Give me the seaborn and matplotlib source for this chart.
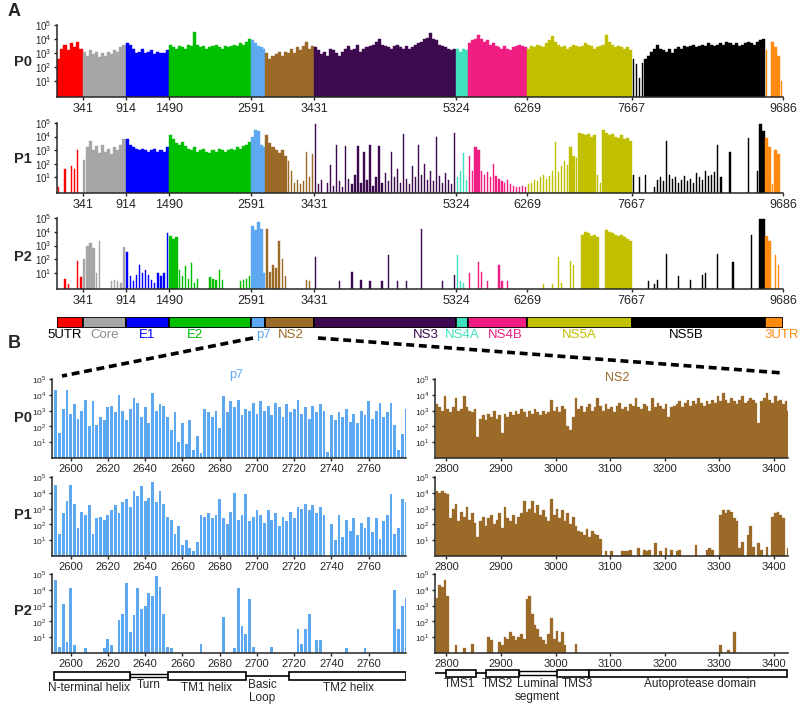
import numpy as np
import matplotlib
matplotlib.use('Agg')
import matplotlib.pyplot as plt
from matplotlib.lines import Line2D
from matplotlib.patches import Rectangle
from matplotlib.ticker import NullLocator
import seaborn as sns

sns.set_style('ticks')
plt.rcParams['font.family'] = ['Liberation Sans', 'DejaVu Sans']
plt.rcParams['mathtext.fontset'] = 'custom'
plt.rcParams['mathtext.rm'] = 'Liberation Sans'

### genome regions (HCV JFH1)
regions = ['5UTR', 'Core', 'E1', 'E2', 'p7', 'NS2', 'NS3', 'NS4A', 'NS4B', 'NS5A', 'NS5B', '3UTR']
region_start = [1, 341, 914, 1490, 2591, 2780, 3431, 5324, 5486, 6269, 7667, 9443]
region_end = [341, 914, 1490, 2591, 2780, 3431, 5324, 5486, 6269, 7667, 9443, 9686]
region_colors = ['#ff0000', '#a6a6a6', '#0000ff', '#00bf00', '#5ea8f2', '#9b6a28',
                 '#3d0a50', '#3fe0bd', '#f01e82', '#c0c000', '#000000', '#ff8a10']
genome_ticks = [341, 914, 1490, 2591, 3431, 5324, 6269, 7667, 9686]

### panel A: log10 coverage per region (coarse bins, 0 = no bar)
A_P0 = [
    [2.6, 3.3, 3.6, 3.2, 3.7, 3.4, 3.8, 3.3],
    [3.1, 2.8, 3.2, 2.9, 3.1, 2.7, 3.0, 2.8, 3.1, 2.9, 3.2, 3.1, 3.4, 3.6],
    [3.7, 3.6, 3.3, 3.0, 3.1, 3.3, 3.0, 3.1, 3.2, 2.9, 3.1, 3.0, 3.0, 3.2],
    [3.6, 3.4, 3.3, 3.5, 3.4, 3.3, 3.6, 3.5, 4.5, 3.6, 3.4, 3.5, 3.3, 3.4, 3.5, 3.6, 3.4, 3.3,
     3.5, 3.4, 3.5, 3.6, 3.5, 3.7, 3.6, 3.8, 4.0],
    [3.9, 3.7, 3.5, 3.4, 3.3],
    [3.0, 2.6, 2.8, 2.9, 3.1, 2.8, 3.1, 3.0, 3.3, 3.0, 3.4, 3.2, 3.5, 3.8, 3.3, 3.5],
    [3.4, 3.2, 2.9, 3.1, 2.8, 3.3, 3.2, 3.0, 2.8, 3.1, 3.3, 3.5, 3.2, 3.3, 3.6, 3.1, 3.3, 3.4,
     3.5, 3.6, 3.8, 4.0, 3.6, 3.5, 3.4, 3.3, 3.5, 3.6, 3.4, 3.3, 3.5, 3.3, 3.4, 3.6, 3.7, 3.8,
     4.0, 4.1, 4.4, 4.0, 3.9, 3.6, 3.5, 3.4, 3.3, 3.2, 3.3],
    [3.3, 3.1, 3.3, 3.2],
    [3.7, 3.9, 4.0, 4.3, 4.0, 3.8, 3.9, 3.6, 3.7, 3.5, 3.4, 3.3, 3.5, 3.3, 3.2, 3.4, 3.5, 3.6, 3.5, 3.4],
    [3.3, 3.5, 3.4, 3.6, 3.5, 3.4, 3.7, 3.9, 4.2, 3.8, 3.6, 3.4, 3.5, 3.3, 3.4, 3.6, 3.5, 3.4,
     3.5, 3.7, 3.6, 3.5, 3.3, 3.4, 3.5, 3.6, 4.3, 3.8, 3.6, 3.4, 3.5, 3.4, 3.3, 3.4, 3.2],
    [2.6, 2.2, 1.2, 2.3, 2.6, 2.8, 3.1, 3.3, 3.6, 3.3, 3.2, 3.1, 3.3, 3.0, 3.3, 3.4, 3.3, 3.5,
     3.4, 3.5, 3.6, 3.4, 3.5, 3.6, 3.5, 3.7, 3.6, 3.5, 3.6, 3.7, 3.6, 3.8, 3.7, 3.6, 3.7, 3.5,
     3.6, 3.7, 3.8, 3.7, 3.6, 3.8, 3.9, 4.0],
    [3.2, 0, 3.8, 3.4, 2.8, 1.0],
]
A_P1 = [
    [0.3, 0, 1.6, 0, 1.8, 1.6, 3.0, 0],
    [2.3, 3.2, 3.7, 3.0, 3.3, 2.8, 3.4, 2.9, 3.1, 2.7, 3.2, 3.0, 3.4, 3.8],
    [3.8, 3.4, 3.2, 3.1, 3.0, 3.1, 3.0, 2.9, 3.0, 3.1, 2.9, 3.0, 2.9, 3.2],
    [4.1, 3.8, 3.5, 3.4, 3.6, 3.3, 3.1, 3.0, 3.2, 2.9, 3.0, 3.1, 2.9, 2.8, 3.0, 2.9, 3.1, 3.0,
     2.9, 3.0, 3.1, 3.0, 3.2, 3.1, 3.3, 3.4, 3.6],
    [4.0, 4.5, 4.4, 3.4, 3.2],
    [4.1, 3.5, 3.2, 3.0, 2.8, 3.0, 2.6, 2.2, 1.5, 0.6, 0.8, 0.5, 0.7, 2.9, 1.0, 2.7],
    [4.9, 0.5, 0.8, 0, 0.6, 1.9, 0.4, 3.4, 0.7, 0.3, 3.3, 0.9, 0.5, 1.2, 3.3, 0.6, 2.9, 0.8,
     3.4, 0.4, 1.0, 3.3, 0.6, 1.3, 0.7, 2.9, 1.0, 1.6, 0.6, 4.2, 0.9, 0.5, 1.8, 1.0, 3.4, 1.2,
     2.0, 0.8, 1.5, 0.7, 4.0, 1.1, 0.6, 1.3, 0.8, 0.5, 4.3],
    [1.0, 1.5, 2.8, 0.8],
    [2.6, 1.5, 3.2, 3.0, 1.5, 1.2, 1.4, 1.0, 2.0, 1.1, 0.9, 0.7, 0.6, 0.8, 0.5, 0.4, 0.3, 0.3, 0.4, 0.3],
    [0.5, 0.6, 0.8, 0.7, 1.0, 1.2, 0.9, 1.1, 1.5, 3.6, 1.4, 1.8, 2.2, 1.9, 3.2, 2.6, 2.4, 4.3,
     4.2, 4.1, 4.2, 4.0, 4.1, 1.2, 0.6, 4.5, 4.3, 4.1, 4.2, 4.0, 3.9, 4.1, 3.8, 3.9, 3.7],
    [1.2, 0, 1.0, 0, 1.2, 0, 0, 0.3, 0.8, 1.0, 0.7, 3.7, 1.2, 0.9, 1.0, 0.6, 0.8, 1.1, 0.7,
     0.9, 0.6, 1.3, 1.0, 0.8, 1.5, 1.1, 1.2, 1.4, 3.4, 1.0, 0, 0, 2.9, 0, 0, 0, 0, 0, 3.9, 0,
     0, 1.5, 4.9, 4.4],
    [3.9, 3.2, 0.5, 3.0, 2.7, 0],
]
A_P2 = [
    [0, 0, 0.6, 0.2, 0, 0, 1.9, 0.7],
    [2.0, 3.0, 3.2, 2.8, 1.0, 3.3, 0, 0, 0, 0.4, 0.5, 0.4, 0.3, 2.9],
    [2.5, 0.8, 0.4, 0.9, 1.6, 1.0, 1.2, 0.9, 0.5, 0.3, 1.0, 0.8, 1.0, 3.9],
    [3.7, 3.5, 3.6, 1.2, 0.8, 1.5, 0.6, 1.7, 0.3, 0.6, 0, 0, 0, 0.7, 0.6, 0.5, 1.2, 0.5, 0, 0,
     0, 0, 0, 0.4, 0.5, 0.6, 0.8],
    [4.4, 4.1, 4.7, 4.2, 1.0],
    [4.2, 1.1, 1.6, 1.4, 3.3, 2.0, 0.8, 0, 0, 0, 0, 0, 0, 0.5, 0.4, 0],
    [2.2, 0, 0, 0, 0, 0, 0, 0, 0.45, 0, 0, 0, 1.1, 0, 0, 0.5, 0, 0, 0.4, 0, 0, 0, 0.4, 0, 2.3,
     0, 0, 0.4, 0, 0, 0.4, 0, 0, 0, 0, 4.2, 0, 0, 0, 0, 0, 0, 0.4, 0, 0, 0, 0.9],
    [2.3, 0.4, 0.3, 0],
    [1.0, 0, 0, 1.8, 1.1, 0, 0.4, 0, 0, 0, 1.6, 0.4, 0, 0.4, 0, 0, 0, 0, 0, 0],
    [0, 0, 0, 0, 0, 0.2, 0, 0, 0.2, 0, 2.2, 0.3, 0, 0, 1.9, 1.6, 0, 0, 3.8, 4.0, 3.9, 3.7, 3.8,
     3.6, 0, 0, 4.1, 4.0, 3.9, 3.8, 3.7, 3.8, 3.6, 3.5, 3.3],
    [0, 0, 0, 0, 0, 0.4, 0, 0.2, 0.5, 0, 0, 2.4, 0, 0, 0, 0.8, 0, 0, 0, 0.5, 0, 0, 0, 0.9,
     1.0, 0, 0, 0, 2.4, 0, 0, 0, 0, 1.8, 0, 0, 0, 0, 0, 3.8, 0, 0, 4.9, 4.9],
    [3.7, 3.3, 0, 2.3, 1.6, 0],
]

### panel B: p7 in 2-nt bins, NS2 in 5-nt bins (log10 coverage)
p7_bins = list(range(2591, 2780, 2))
p7_P0 = [4.3, 1.6, 3.1, 4.3, 2.8, 3.4, 2.5, 3.0, 3.7, 2.0, 3.6,
         2.1, 2.6, 2.4, 3.2,
         3.3, 2.9, 4.0, 3.0, 2.4, 3.1, 3.8, 3.5, 2.6, 3.2,
         2.2, 4.1, 3.0, 3.4, 3.3,
         2.6, 1.8, 2.9, 1.0, 2.2, 0.9, 2.4, 0.5, 1.4,
         0.3, 3.1, 2.9, 2.6, 3.0, 1.9,
         3.9, 2.9, 3.6, 3.2, 3.7, 2.7, 3.1, 3.0, 3.5, 2.8,
         3.6, 3.0, 3.3, 2.7, 3.5, 3.2, 2.6, 3.4, 2.9, 3.1,
         3.7, 2.8, 3.2, 2.5, 3.3, 2.9, 3.4, 3.0, 0.4, 2.7,
         2.4, 2.9, 2.6, 3.1, 2.3, 2.8, 2.2, 3.0, 2.7, 3.6,
         2.5, 3.0, 3.5, 2.6, 2.9, 3.5, 2.1, 0.5, 1.5, 3.1]
p7_P1 = [4.5, 1.4, 2.7, 3.5, 4.5, 3.3, 1.8, 2.8, 2.6, 3.2, 1.4,
         2.4, 2.5, 2.3, 2.6,
         2.9, 3.2, 2.7, 3.4, 3.6, 3.1, 4.1, 3.8, 4.4, 3.5,
         3.7, 4.7, 3.4, 4.1, 3.3,
         2.5, 2.3, 1.4, 1.9, 0.7, 1.0, 0.5, 0.3, 0.9,
         2.6, 2.5, 2.7, 2.4, 2.6, 3.6,
         2.4, 2.0, 2.8, 4.0, 2.3, 2.6, 3.9, 2.2, 2.5, 2.9,
         2.6, 2.1, 2.9, 2.3, 2.7, 1.9, 2.5, 2.2, 2.8, 2.4,
         3.1, 3.0, 3.3, 2.9, 3.2, 2.7, 3.1, 2.6, 0, 2.0,
         1.0, 2.6, 1.2, 2.3, 1.6, 2.4, 1.3, 2.1, 1.8, 2.5,
         1.5, 2.4, 1.1, 2.2, 2.6, 3.9, 1.4, 1.8, 3.6, 3.4]
p7_P2 = [4.6, 0.4, 3.1, 0.7, 4.1, 0.5, 0, 0, 0.3, 0,
         0, 0, 0, 0.3, 0.9, 0.5, 0, 2.1, 2.5, 4.4,
         1.3, 2.4, 4.1, 2.8, 3.0, 3.8, 3.6, 4.9, 4.2, 2.5,
         0.4, 0.3, 0, 0, 0, 0, 0, 0, 0, 0.6,
         0, 0, 0, 0, 0, 2.3, 0, 0, 0.3, 4.1,
         1.7, 1.2, 3.4, 0.4, 0, 0, 0, 0, 0.4, 0,
         0, 0, 0, 0, 0, 1.5, 0.6, 1.5, 2.5, 0,
         0.8, 0.8, 0, 0, 0, 0, 0, 0, 0.3, 0,
         0, 0, 0, 0.3, 0, 0, 0, 0, 0, 0,
         0, 4.0, 1.5, 3.0, 3.5]

ns2_bins = list(range(2780, 3430, 5))
ns2_P0 = [3.4, 3.2, 3.0, 3.9, 3.1, 2.9, 3.2, 3.8, 3.0, 3.1, 3.9, 3.2, 3.0, 2.9, 3.1,
          1.3, 2.5, 2.7, 2.4, 2.8, 2.6, 3.0, 2.5, 2.7, 1.6, 2.8, 2.6,
          2.9, 2.7, 3.0, 2.8, 3.1, 2.9, 2.6, 3.0, 2.8, 3.1, 2.9, 2.7, 3.0, 2.8, 2.9, 3.7,
          3.0, 3.2, 2.9, 3.3, 3.1, 2.0, 1.8, 2.6,
          3.8, 3.1, 3.3, 2.9, 3.2, 3.4, 3.0, 3.2, 3.8, 3.3, 3.0, 3.4, 3.1, 3.2, 2.9, 3.3,
          3.5, 3.1, 3.2, 3.0, 3.4, 3.3, 3.8, 3.2, 3.1, 3.4, 3.3, 3.0, 3.8, 3.2, 3.5, 3.3,
          3.1, 3.4, 2.6, 3.2, 3.3,
          3.4, 3.6, 3.2, 3.5, 3.7, 3.3, 3.6, 3.4, 3.8, 3.5,
          3.3, 3.6, 3.4, 3.7, 3.5, 3.9, 3.6, 4.1, 3.7, 3.5,
          3.8, 3.6, 3.4, 3.7, 3.9, 3.5, 3.6, 3.8, 3.7, 3.5,
          2.2, 3.6, 3.8, 4.1, 3.7, 3.5, 3.9, 3.6, 3.7, 3.4,
          3.6, 3.0]
ns2_P1 = [4.1, 4.0, 4.1, 4.0, 3.9,
          2.4, 3.0, 3.3, 2.2, 2.8, 2.5, 3.1, 2.3, 2.7, 2.1,
          1.2, 2.2, 2.5, 1.9, 2.4, 2.6, 2.0, 2.3, 2.7, 1.8, 3.1, 2.4, 2.2, 2.6, 2.0, 2.5, 2.7,
          3.5, 2.8, 3.0, 3.5, 2.7, 3.2, 2.6, 2.9, 2.5, 2.2,
          3.6, 2.6, 3.0, 2.4, 2.9, 2.2, 2.7, 2.0, 2.5, 1.9, 1.6,
          1.5, 1.3, 1.7, 1.2, 1.6, 1.4, 1.3, 1.1,
          0, 0.3, 0, 0.3, 0, 0, 0, 0.3, 0.3, 0.3, 0.4, 0, 0, 0.5, 0, 0.4, 0.3, 0.4, 0, 0.8,
          0, 0.3, 0, 0.5, 0, 0.4, 0, 0.3, 0.4, 0, 0, 0, 0, 0, 0.7, 0, 0, 0, 0.4, 0.5, 0.4,
          0, 0,
          2.6, 2.9, 2.7, 2.9, 2.8, 2.4,
          2.2, 0.5, 0.9, 0, 1.3, 1.9, 0.6, 0, 0.8, 0.4, 0, 0.6, 0,
          2.5, 2.7, 2.8, 2.6, 2.4,
          0, 0.5]
ns2_P2 = [3.5, 4.3, 4.2, 4.6, 3.6, 0, 0, 0.5, 0, 0,
          0.3, 0, 0, 0.6, 0, 0, 0, 0, 0, 1.0,
          0.8, 0, 0, 0.7, 0.5, 1.0, 0.9, 1.3, 1.1, 0.8,
          1.0, 1.2, 0.9, 3.4, 3.6, 2.5, 1.8, 1.5, 1.0, 0.8,
          0.6, 1.2, 2.2, 0.9, 1.4, 0.7, 1.3, 0.5, 0, 0,
          0, 0.6, 0, 0, 0, 0, 0, 0, 0, 0,
          0, 0, 0, 0, 0, 0, 0, 0, 0, 0,
          0, 0, 0, 0, 0, 0, 0, 0, 0, 0,
          0, 0, 0, 0, 0, 0, 0, 0, 0, 0,
          0, 0, 0, 0, 0, 0, 0, 0, 0, 0,
          0, 0, 0, 0, 0.5, 0, 0, 0.2, 0, 1.3,
          0, 0, 0, 0, 0, 0, 0, 0, 0, 0,
          0, 0, 0, 0, 0, 0, 0, 0, 0, 0]

### domain annotations below panel B
p7_domains = [('N-terminal helix', 2591, 2632, 'box'), ('Turn', 2632, 2652, 'thin'),
              ('TM1 helix', 2652, 2694, 'box'), ('Basic\nLoop', 2694, 2717, 'line'),
              ('TM2 helix', 2717, 2780, 'box')]
p7_label_x = [2610, 2642, 2673, 2703, 2749]
ns2_domains = [('', 2779, 2800, 'line'), ('TMS1', 2800, 2855, 'box'), ('', 2855, 2873, 'line'),
               ('TMS2', 2873, 2933, 'box'), ('Luminal\nsegment', 2933, 3002, 'thin'),
               ('TMS3', 3002, 3061, 'box'), ('Autoprotease domain', 3061, 3424, 'box')]
ns2_label_x = [0, 2823, 0, 2893, 2967, 3040, 3265]

W, H = 800, 706
fig = plt.figure(figsize=(W / 100, H / 100), dpi=100)


def px_axes(l, t, r, b):
    return fig.add_axes([l / W, 1 - b / H, (r - l) / W, (b - t) / H])


def to_heights(v):
    return [10 ** h if h > 0 else 0 for h in v]


def style_log_axis(ax, ysize, bottom):
    ax.set_yscale('log')
    ax.set_ylim(bottom, 1e5)
    ax.set_yticks([1e1, 1e2, 1e3, 1e4, 1e5])
    ax.set_yticklabels(['10$^{%d}$' % k for k in range(1, 6)], fontsize=ysize)
    ax.yaxis.set_minor_locator(NullLocator())
    ax.set_xlabel('')
    ax.set_ylabel('')
    for s in ['left', 'bottom']:
        ax.spines[s].set_linewidth(1.1)
    ax.tick_params(length=2.5, width=1, pad=1.5)
    sns.despine(ax=ax)


###Panel A
# tall bars next to tall bars read as a filled block, lone ones as thin spikes
A_axes_px = [(25, 97), (123, 193), (218, 289)]
for data, (t, b) in zip([A_P0, A_P1, A_P2], A_axes_px):
    ax = px_axes(57, t, 783, b)
    for s, e, col, v in zip(region_start, region_end, region_colors, data):
        step = (e - s) / len(v)
        lefts, widths = [], []
        for i, h in enumerate(v):
            nb = [v[j] for j in (i - 1, i + 1) if 0 <= j < len(v)]
            solid = h >= 2.5 and max(nb) >= 2.5
            w = step if solid else step * 0.4
            lefts.append(s + step * i + (step - w) / 2)
            widths.append(w)
        ax.bar(lefts, to_heights(v), width=widths, align='edge', color=col,
               edgecolor=col, linewidth=0.3)
    style_log_axis(ax, 7, 10 ** -0.15)
    ax.set_xlim(0, 9686)
    ax.set_xticks(genome_ticks)
    ax.set_xticklabels([str(g) for g in genome_ticks], fontsize=9)

# genome map bar
gax = px_axes(57, 317, 783, 328)
for s, e, col in zip(region_start, region_end, region_colors):
    gax.barh(0, e - s, left=s, height=1, color=col, edgecolor='black', linewidth=1.2)
gax.set_xlim(0, 9686)
gax.set_ylim(-0.5, 0.5)
gax.axis('off')

label_px = [65, 105, 147, 195, 263, 291, 426, 462, 505, 579, 686, 799]
label_cols = ['black', '#8c8c8c', '#0000ff', '#00bf00', '#5ea8f2', '#9b6a28',
              '#3d0a50', '#3fe0bd', '#f01e82', '#c0c000', 'black', '#ff8a10']
for name, xp, col in zip(regions, label_px, label_cols):
    fig.text(xp / W, 1 - 335 / H, name, color=col, fontsize=9.5,
             ha='right' if name == '3UTR' else 'center', va='center')

###Panel B
B_axes_px = [(379, 458), (477, 556), (574, 653)]
for (t, b), pv, nv in zip(B_axes_px, [p7_P0, p7_P1, p7_P2], [ns2_P0, ns2_P1, ns2_P2]):
    ax = px_axes(52, t, 406, b)
    sns.barplot(x=[p + 1 for p in p7_bins], y=to_heights(pv), native_scale=True, width=0.75,
                orient='x', color=region_colors[4], saturation=1, linewidth=0, errorbar=None, ax=ax)
    style_log_axis(ax, 6, 1)
    ax.set_xlim(2590, 2780)
    ax.set_xticks(range(2600, 2761, 20))
    ax.tick_params(axis='x', labelsize=8)

    ax = px_axes(435, t, 788, b)
    sns.barplot(x=[p + 2.5 for p in ns2_bins], y=to_heights(nv), native_scale=True, width=1,
                orient='x', color=region_colors[5], saturation=1, linewidth=0.2,
                edgecolor=region_colors[5], errorbar=None, ax=ax)
    style_log_axis(ax, 6, 1)
    ax.set_xlim(2779, 3426)
    ax.set_xticks(range(2800, 3401, 100))
    ax.tick_params(axis='x', labelsize=8)

fig.text(236 / W, 1 - 375 / H, 'p7', color=region_colors[4], fontsize=9, ha='center', va='center')
fig.text(617 / W, 1 - 378 / H, 'NS2', color=region_colors[5], fontsize=9, ha='center', va='center')


def draw_domains(ax, domains, label_x, box_top, box_bot, label_y, gap_lift):
    mid = (box_top + box_bot) / 2
    for (name, s, e, kind), lx in zip(domains, label_x):
        if kind == 'box':
            ax.add_patch(Rectangle((s, box_top), e - s, box_bot - box_top, facecolor='white',
                                   edgecolor='black', linewidth=1.2))
        elif kind == 'thin':
            ax.add_patch(Rectangle((s, mid - 2), e - s, 3.5, facecolor='white',
                                   edgecolor='black', linewidth=1.0))
        else:
            ax.plot([s, e], [mid, mid], color='black', linewidth=1.2)
        if name:
            ly = label_y if kind == 'box' else label_y - gap_lift
            ax.text(lx, ly, name, fontsize=8.5, ha='center', va='top', linespacing=1.1)


dax = px_axes(52, 664, 406, 684)
dax.set_xlim(2590, 2780)
dax.set_ylim(684, 664)
dax.axis('off')
draw_domains(dax, p7_domains, p7_label_x, 672, 680, 682, 3)

dax = px_axes(435, 664, 788, 684)
dax.set_xlim(2779, 3426)
dax.set_ylim(684, 664)
dax.axis('off')
draw_domains(dax, ns2_domains, ns2_label_x, 670, 677, 678, 0)

# zoom-in dashed guides
for (x1, y1), (x2, y2) in [((253, 338), (62, 376)), ((318, 338), (783, 373))]:
    fig.add_artist(Line2D([x1 / W, x2 / W], [1 - y1 / H, 1 - y2 / H], transform=fig.transFigure,
                          color='black', linewidth=2.6, linestyle=(0, (2.2, 1.3))))

# panel and passage labels
fig.text(8 / W, 1 - 12 / H, 'A', fontsize=13, fontweight='bold', va='center')
fig.text(8 / W, 1 - 343 / H, 'B', fontsize=13, fontweight='bold', va='center')
for name, yp in [('P0', 62), ('P1', 159), ('P2', 257), ('P0', 418), ('P1', 515), ('P2', 611)]:
    fig.text(23 / W, 1 - yp / H, name, fontsize=10.5, fontweight='bold', ha='center', va='center')

fig.savefig('out.png', dpi=100)
